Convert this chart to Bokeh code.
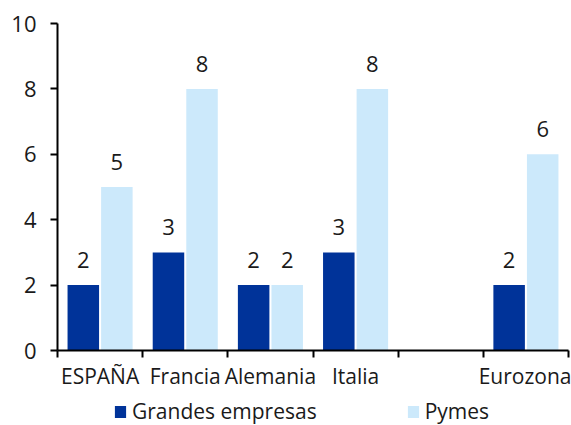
from bokeh.plotting import figure
from bokeh.layouts import column
from bokeh.models import (ColumnDataSource, Range1d, LinearAxis, FixedTicker,
                          Legend, LegendItem, LabelSet)
from bokeh.core.properties import value
from bokeh.transform import dodge
from bokeh.embed import file_html
from bokeh.resources import INLINE

# Chart data
categories = ["ESPAÑA", "Francia", "Alemania", "Italia", "", "Eurozona"]
grandes = [2, 3, 2, 3, None, 2]
pymes = [5, 8, 2, 8, None, 6]
y_ticks = [0, 2, 4, 6, 8, 10]
series_names = ["Grandes empresas", "Pymes"]

FONT = "Open Sans"
DARK = "#003399"
LIGHT = "#cce9fb"
TEXT = "#1a1a1a"
FS = "22px"

W_TOTAL, H_CHART, H_LEGEND = 571, 398, 27

n = len(categories)
p = figure(width=W_TOTAL, height=H_CHART, output_backend="svg",
           toolbar_location=None,
           x_range=Range1d(0, n), y_range=Range1d(0, 10),
           x_axis_type=None, y_axis_type=None,
           min_border_left=57, min_border_right=3,
           min_border_top=23, min_border_bottom=48)
p.outline_line_color = None
p.xgrid.visible = False
p.ygrid.visible = False
p.background_fill_color = "white"
p.border_fill_color = "white"

# one row per category that has data, positioned at the category centre
rows = [i for i in range(n) if grandes[i] is not None]
src = ColumnDataSource(dict(
    x=[i + 0.5 for i in rows],
    g=[grandes[i] for i in rows],
    pm=[pymes[i] for i in rows],
    gl=[str(grandes[i]) for i in rows],
    pl=[str(pymes[i]) for i in rows],
))

OFF = 0.197
W = 0.37
bar_g = dict(x=dodge("x", -OFF, range=p.x_range), top="g", width=W, bottom=0,
             source=src, fill_color=DARK, line_color=None)
bar_p = dict(x=dodge("x", OFF, range=p.x_range), top="pm", width=W, bottom=0,
             source=src, fill_color=LIGHT, line_color=None)
p.vbar(**bar_g)
p.vbar(**bar_p)

for col, lab, off in (("g", "gl", -OFF), ("pm", "pl", OFF)):
    p.add_layout(LabelSet(x=dodge("x", off, range=p.x_range), y=col, text=lab,
                          source=src, text_align="center",
                          text_baseline="alphabetic", y_offset=17,
                          text_font=value(FONT), text_font_size=value(FS),
                          text_color=TEXT))

# y axis
yax = LinearAxis(ticker=FixedTicker(ticks=y_ticks))
yax.major_tick_out = 7
yax.major_tick_in = 0
yax.minor_tick_line_color = None
yax.axis_line_width = 2
yax.major_tick_line_width = 2
yax.axis_line_color = "black"
yax.major_label_standoff = 14
yax.major_label_text_font = FONT
yax.major_label_text_font_size = FS
yax.major_label_text_color = TEXT
p.add_layout(yax, "left")

# x axis: tick marks at the category boundaries
xax = LinearAxis(ticker=FixedTicker(ticks=list(range(n + 1))))
xax.major_tick_out = 7
xax.major_tick_in = 0
xax.minor_tick_line_color = None
xax.axis_line_width = 2
xax.major_tick_line_width = 2
xax.major_label_text_font_size = "0px"
xax.major_label_standoff = 0
xax.major_label_overrides = {i: "" for i in range(n + 1)}
p.add_layout(xax, "below")

# x axis: category names at the centres
name_ticks = [i + 0.5 for i in range(n) if categories[i]]
xlab = LinearAxis(ticker=FixedTicker(ticks=name_ticks))
xlab.axis_line_color = None
xlab.major_tick_line_color = None
xlab.minor_tick_line_color = None
xlab.major_tick_out = 0
xlab.major_tick_in = 0
xlab.major_label_standoff = 4
xlab.major_label_overrides = {i + 0.5: categories[i] for i in range(n) if categories[i]}
xlab.major_label_text_font = FONT
xlab.major_label_text_font_size = "21px"
xlab.major_label_text_color = TEXT
p.add_layout(xlab, "below")

# legend strip: its swatch renderers lie wholly outside the strip's ranges
lf = figure(width=W_TOTAL, height=H_LEGEND, output_backend="svg",
            toolbar_location=None, x_range=Range1d(100, 101),
            y_range=Range1d(100, 101), x_axis_type=None, y_axis_type=None,
            min_border_left=0, min_border_right=0,
            min_border_top=0, min_border_bottom=0)
lf.outline_line_color = None
lf.xgrid.visible = False
lf.ygrid.visible = False
lf.background_fill_color = "white"
lf.border_fill_color = "white"
bar_g["x"] = "x"
bar_p["x"] = "x"
sw_g = lf.vbar(**bar_g)
sw_p = lf.vbar(**bar_p)

legend = Legend(items=[LegendItem(label=series_names[0], renderers=[sw_g]),
                       LegendItem(label=series_names[1], renderers=[sw_p])],
                location=(56, 0), orientation="horizontal",
                spacing=89, padding=0, margin=0,
                glyph_width=14, glyph_height=15, label_standoff=5,
                label_text_font=FONT, label_text_font_size="21px",
                label_text_color=TEXT,
                border_line_color=None, background_fill_alpha=0)
lf.add_layout(legend, "center")

layout = column(p, lf, spacing=0)
open("out.html", "w").write(file_html(layout, INLINE))
